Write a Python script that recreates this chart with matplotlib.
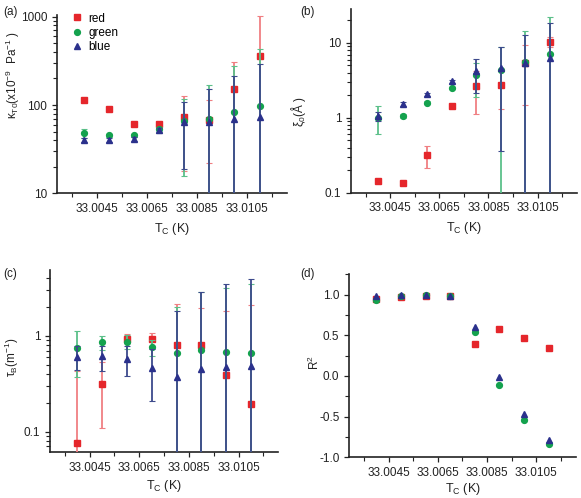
import matplotlib
matplotlib.use('Agg')
from matplotlib import pyplot as plt
from matplotlib.lines import Line2D
from matplotlib.ticker import FixedLocator, LogLocator, NullFormatter, MultipleLocator, FormatStrFormatter
import numpy as np

plt.rcParams['font.family'] = ['Liberation Sans', 'DejaVu Sans']
plt.rcParams['mathtext.default'] = 'regular'
my_fontsize = 8.5

# x positions (critical temperature, K)
tc = [33.0040, 33.0050, 33.0060, 33.0070, 33.0080, 33.0090, 33.0100, 33.0110]
xtick_major = [33.0045, 33.0065, 33.0085, 33.0105]
xtick_minor = [33.0035, 33.0055, 33.0075, 33.0095, 33.0115]

# (a) kappa_T0 (x10^-9 Pa^-1)
kappa_red = [115, 89, 61.5, 61.5, 73, 68, 150, 360]
kappa_red_err = [3, 3, 2, 2, 55, 46, 158, 660]
kappa_green = [48, 45.3, 45.3, 53, 65.8, 68.7, 82.6, 97.5]
kappa_green_err = [6, 2, 2, 4, 50, 101, 195, 332]
kappa_blue = [40.4, 40, 41.5, 51.6, 64, 64, 68.7, 73]
kappa_blue_err = [2, 2, 2, 4, 45, 86, 143, 215]

# (b) xi_0 (A)
xi_red = [0.142, 0.135, 0.315, 1.43, 2.67, 2.75, 5.4, 10.4]
xi_red_err = [0.005, 0.005, 0.1, 0.06, 1.56, 1.42, 3.9, 1.5]
xi_green = [1.01, 1.06, 1.6, 2.47, 3.68, 4.37, 5.58, 7.07]
xi_green_err = [0.41, 0.08, 0.06, 0.08, 1.8, 4.5, 8.7, 15]
xi_blue = [1.05, 1.52, 2.07, 3.06, 4.16, 4.56, 5.4, 6.2]
xi_blue_err = [0.15, 0.1, 0.1, 0.15, 2.0, 4.2, 7.5, 12]

# (c) tau_B (m^-1)
tau_red = [0.0757, 0.318, 0.937, 0.923, 0.811, 0.80, 0.388, 0.196]
tau_red_err = [0.355, 0.21, 0.1, 0.14, 1.35, 1.15, 1.43, 1.9]
tau_green = [0.755, 0.859, 0.872, 0.762, 0.665, 0.714, 0.681, 0.665]
tau_green_err = [0.385, 0.15, 0.15, 0.15, 1.36, 2.2, 2.5, 2.8]
tau_blue = [0.608, 0.613, 0.579, 0.467, 0.373, 0.449, 0.478, 0.486]
tau_blue_err = [0.17, 0.18, 0.2, 0.26, 1.47, 2.45, 3.0, 3.42]

# (d) R^2
r2_red = [0.95, 0.97, 0.99, 0.99, 0.396, 0.572, 0.47, 0.338]
r2_green = [0.94, 0.98, 0.996, 0.99, 0.54, -0.109, -0.544, -0.836]
r2_blue = [0.99, 0.996, 0.996, 0.99, 0.606, -0.007, -0.463, -0.787]

labels = ['red', 'green', 'blue']
colors = ['#e5262b', '#14a24e', '#2b318c']
ecolors = ['#f07f82', '#5cc08a', '#3d4a8c']
markers = ['s', 'o', '^']
text_color = '#222222'

fig = plt.figure(figsize=(5.81, 4.98), dpi=100)
ax_a = fig.add_axes([0.098, 0.612, 0.396, 0.358])
ax_b = fig.add_axes([0.604, 0.613, 0.389, 0.368])
ax_c = fig.add_axes([0.086, 0.092, 0.393, 0.366])
ax_d = fig.add_axes([0.601, 0.082, 0.390, 0.367])


def style_axes(ax, xpad=4):
    for side in ['top', 'right']:
        ax.spines[side].set_visible(False)
    for side in ['left', 'bottom']:
        ax.spines[side].set_linewidth(1.2)
        ax.spines[side].set_color(text_color)
    ax.set_xlim(33.0029, 33.0121)
    ax.xaxis.set_major_locator(FixedLocator(xtick_major))
    ax.xaxis.set_minor_locator(FixedLocator(xtick_minor))
    ax.xaxis.set_major_formatter(FormatStrFormatter('%.4f'))
    ax.tick_params(which='major', direction='out', length=3.5, width=0.9,
                   labelsize=my_fontsize, colors=text_color)
    ax.tick_params(which='minor', direction='out', length=3, width=0.8, colors=text_color)
    ax.set_xlabel('T$_C$ (K)', fontsize=9, color=text_color, labelpad=xpad)


def plot_errs(ax, series, errs):
    for i, (vals, err) in enumerate(zip(series, errs)):
        ax.errorbar(tc, vals, yerr=err, fmt=markers[i], color=colors[i], ecolor=ecolors[i],
                    markersize=4.2, elinewidth=1.3, capsize=2, capthick=0.8,
                    zorder=3 + i)


def log_ticks(ax):
    ax.set_yscale('log')
    ax.yaxis.set_major_locator(LogLocator(base=10))
    ax.yaxis.set_minor_locator(LogLocator(base=10, subs=np.arange(2, 10)))
    ax.yaxis.set_minor_formatter(NullFormatter())


# (a)
plot_errs(ax_a, [kappa_red, kappa_green, kappa_blue],
          [kappa_red_err, kappa_green_err, kappa_blue_err])
log_ticks(ax_a)
ax_a.set_ylim(10, 1050)
ax_a.yaxis.set_major_formatter(FormatStrFormatter('%d'))
style_axes(ax_a)
ax_a.set_ylabel('κ$_{T0}$(x10$^{-9}$  Pa$^{-1}$ )', fontsize=8.5, color=text_color)
ax_a.yaxis.set_label_coords(-0.15, 0.66)
handles = [Line2D([], [], linestyle='none', marker=markers[i], color=colors[i], markersize=4.2)
           for i in range(3)]
ax_a.legend(handles, labels, loc='upper left', bbox_to_anchor=(0.02, 1.06), frameon=False,
            fontsize=8.5, handletextpad=0.4, handlelength=1.2, labelspacing=0.2,
            borderaxespad=0.3)

# (b)
plot_errs(ax_b, [xi_red, xi_green, xi_blue], [xi_red_err, xi_green_err, xi_blue_err])
log_ticks(ax_b)
ax_b.set_ylim(0.1, 28)
ax_b.yaxis.set_major_formatter(FormatStrFormatter('%g'))
style_axes(ax_b)
ax_b.set_ylabel('ξ$_0$(Å )', fontsize=8.5, color=text_color)
ax_b.yaxis.set_label_coords(-0.19, 0.44)

# (c)
plot_errs(ax_c, [tau_red, tau_green, tau_blue], [tau_red_err, tau_green_err, tau_blue_err])
log_ticks(ax_c)
ax_c.set_ylim(0.061, 4.9)
ax_c.yaxis.set_major_formatter(FormatStrFormatter('%g'))
style_axes(ax_c, xpad=3)
ax_c.set_ylabel('τ$_B$(m$^{-1}$)', fontsize=8.5, color=text_color)
ax_c.yaxis.set_label_coords(-0.125, 0.52)

# (d)
for i, vals in enumerate([r2_red, r2_green, r2_blue]):
    ax_d.plot(tc, vals, linestyle='none', marker=markers[i], color=colors[i],
              markersize=4.2, zorder=3 + i)
ax_d.set_ylim(-1.0, 1.25)
ax_d.yaxis.set_major_locator(MultipleLocator(0.5))
ax_d.yaxis.set_minor_locator(MultipleLocator(0.25))
ax_d.yaxis.set_major_formatter(FormatStrFormatter('%.1f'))
style_axes(ax_d, xpad=1.5)
ax_d.set_ylabel('R$^2$', fontsize=8.5, color=text_color)
ax_d.yaxis.set_label_coords(-0.12, 0.52)

fig.text(0.005, 0.988, '(a)', fontsize=8.5, va='top', color=text_color)
fig.text(0.517, 0.988, '(b)', fontsize=8.5, va='top', color=text_color)
fig.text(0.005, 0.462, '(c)', fontsize=8.5, va='top', color=text_color)
fig.text(0.517, 0.462, '(d)', fontsize=8.5, va='top', color=text_color)

plt.savefig('out.png', dpi=100)
